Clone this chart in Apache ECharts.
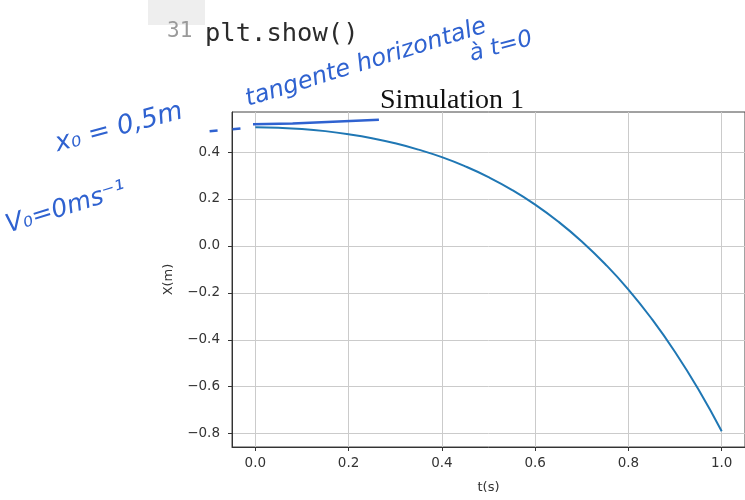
<!DOCTYPE html>
<html>
<head>
<meta charset="utf-8">
<script src="https://cdn.jsdelivr.net/npm/echarts@6/dist/echarts.min.js"></script>
<style>
  html, body { margin: 0; padding: 0; background: #fff; }
  #chart { width: 745px; height: 500px; }
</style>
</head>
<body>
<div id="chart"></div>
<script>
// ---- data ----
const tValues = [0, 0.05, 0.10, 0.15, 0.20, 0.25, 0.30, 0.35, 0.40, 0.45, 0.50,
                 0.55, 0.60, 0.65, 0.70, 0.75, 0.80, 0.85, 0.90, 0.95, 1.00];
const xValues = [0.505, 0.503, 0.498, 0.489, 0.476, 0.459, 0.437, 0.410, 0.378, 0.339, 0.293,
                 0.239, 0.176, 0.103, 0.019, -0.077, -0.186, -0.311, -0.452, -0.611, -0.790];
const xTicks = [0, 0.2, 0.4, 0.6, 0.8, 1.0];
const yTicks = [-0.8, -0.6, -0.4, -0.2, 0, 0.2, 0.4];
// hand-drawn tangent annotation (t, X)
const tangentDashT = [-0.098, -0.03, 0];
const tangentDashX = [0.488, 0.501, 0.507];
const tangentSolidT = [-0.005, 0.08, 0.265];
const tangentSolidX = [0.518, 0.522, 0.538];

const curve = tValues.map((t, i) => [t, xValues[i]]);
const dash = tangentDashT.map((t, i) => [t, tangentDashX[i]]);
const solid = tangentSolidT.map((t, i) => [t, tangentSolidX[i]]);

const ink = '#2f62d0';
const fmt = v => v.toFixed(1).replace('-', '\u2212');

const chart = echarts.init(document.getElementById('chart'), null, { renderer: 'canvas' });
const baseGraphic = [
  { type: 'rect', shape: { x: 148, y: 0, width: 57, height: 25 }, style: { fill: '#eeeeee' } },
  { type: 'text', x: 167, y: 21, style: { text: '31', fontFamily: 'DejaVu Sans Mono', fontSize: 21, fill: '#9a9a9a', textVerticalAlign: 'alphabetic' } },
  { type: 'text', x: 205, y: 21, style: { text: 'plt.show()', fontFamily: 'DejaVu Sans Mono', fontSize: 25.5, fill: '#2b2b2b', textVerticalAlign: 'alphabetic' } },
  { type: 'text', x: 452, y: 87, style: { text: 'Simulation 1', fontFamily: 'Liberation Serif', fontSize: 28, fill: '#111', textAlign: 'center', textVerticalAlign: 'alphabetic' } },
  { type: 'text', x: 366, y: 63, rotation: 0.30, style: { text: 'tangente horizontale', fontFamily: 'DejaVu Sans', fontStyle: 'italic', fontSize: 24, fill: ink, textAlign: 'center', textVerticalAlign: 'middle' } },
  { type: 'text', x: 501, y: 47, rotation: 0.26, style: { text: 'à t=0', fontFamily: 'DejaVu Sans', fontStyle: 'italic', fontSize: 23, fill: ink, textAlign: 'center', textVerticalAlign: 'middle' } },
  { type: 'text', x: 119, y: 128, rotation: 0.26, style: { text: 'x₀ = 0,5m', fontFamily: 'DejaVu Sans', fontStyle: 'italic', fontSize: 26, fill: ink, textAlign: 'center', textVerticalAlign: 'middle' } },
  { type: 'text', x: 66, y: 208, rotation: 0.30, style: { text: 'V₀=0ms⁻¹', fontFamily: 'DejaVu Sans', fontStyle: 'italic', fontSize: 25, fill: ink, textAlign: 'center', textVerticalAlign: 'middle' } }
];
chart.setOption({
  animation: false,
  backgroundColor: '#fff',
  grid: { left: 232, top: 112, width: 513, height: 335, show: true, borderColor: '#444', borderWidth: 1 },
  xAxis: {
    type: 'value', min: -0.05, max: 1.05,
    name: 't(s)', nameLocation: 'middle', nameGap: 34,
    nameTextStyle: { fontFamily: 'DejaVu Sans', fontSize: 13, color: '#333' },
    axisLine: { show: true, onZero: false, lineStyle: { color: '#333', width: 1 } },
    axisTick: { show: true, inside: false, length: 4, customValues: xTicks, lineStyle: { color: '#333' } },
    axisLabel: { customValues: xTicks, formatter: fmt, margin: 9, fontFamily: 'DejaVu Sans', fontSize: 13.5, color: '#333' },
    splitLine: { show: true, lineStyle: { color: '#cbcbcb', width: 1 } }
  },
  yAxis: {
    type: 'value', min: -0.857, max: 0.5705,
    name: 'X(m)', nameLocation: 'middle', nameGap: 57,
    nameTextStyle: { fontFamily: 'DejaVu Sans', fontSize: 13, color: '#333' },
    axisLine: { show: true, onZero: false, lineStyle: { color: '#333', width: 1 } },
    axisTick: { show: true, inside: false, length: 4, customValues: yTicks, lineStyle: { color: '#333' } },
    axisLabel: { customValues: yTicks, formatter: fmt, margin: 12, fontFamily: 'DejaVu Sans', fontSize: 13.5, color: '#333' },
    splitLine: { show: true, lineStyle: { color: '#cbcbcb', width: 1 } }
  },
  series: [
    { type: 'line', data: curve, smooth: true, showSymbol: false, lineStyle: { color: '#1f77b4', width: 2 }, z: 3 },
    { type: 'line', data: solid, clip: false, showSymbol: false, lineStyle: { color: ink, width: 2.5 }, z: 4 }
  ],
  graphic: baseGraphic
});
// dashed hand-drawn lead-in, placed through the chart's own coordinate conversion
const dashPts = dash.map(p => chart.convertToPixel({ gridIndex: 0 }, p));
chart.setOption({
  graphic: baseGraphic.concat([
    { type: 'polyline', z: 10, shape: { points: dashPts },
      style: { stroke: ink, lineWidth: 2.5, lineDash: [8, 15], fill: null } }
  ])
});
</script>
</body>
</html>
